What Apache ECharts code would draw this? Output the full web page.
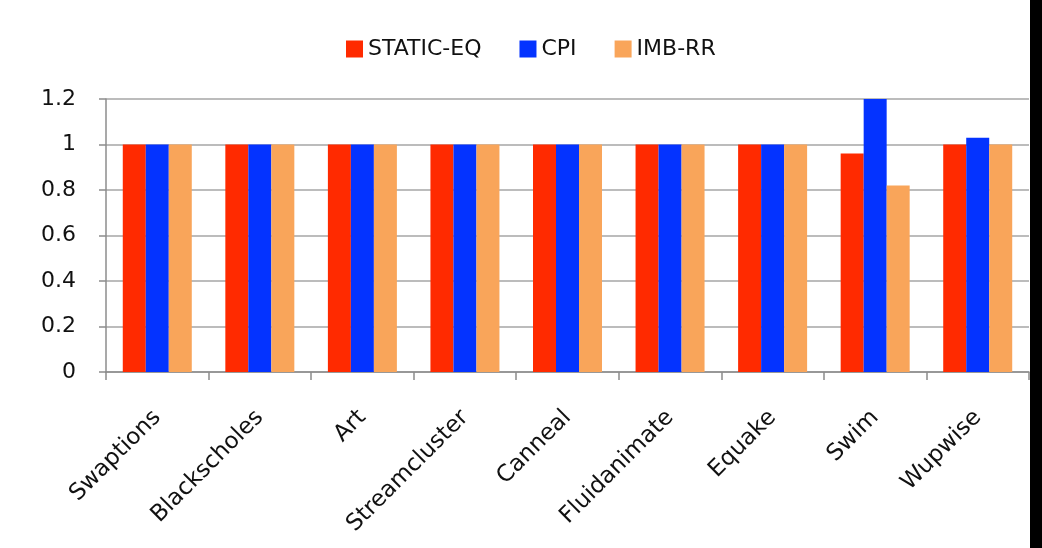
<!DOCTYPE html>
<html><head><meta charset="utf-8">
<script src="https://cdn.jsdelivr.net/npm/echarts@6/dist/echarts.min.js"></script>
<style>html,body{margin:0;padding:0;background:#fff}#c{width:1042px;height:548px}</style>
</head><body><div id="c"></div>
<script>
const categories = ["Swaptions","Blackscholes","Art","Streamcluster","Canneal","Fluidanimate","Equake","Swim","Wupwise"];
const staticEq = [1,1,1,1,1,1,1,0.96,1];
const cpi = [1,1,1,1,1,1,1,1.2,1.03];
const imbRR = [1,1,1,1,1,1,1,0.82,1];
const seriesNames = ["STATIC-EQ","CPI","IMB-RR"];
const colors = ["#FF2A00","#0433FF","#F9A55A"];
const font = "'DejaVu Sans', sans-serif";
const chart = echarts.init(document.getElementById('c'));
const data = [staticEq, cpi, imbRR];
chart.setOption({
  animation:false,
  legend:{top:33,left:341,itemWidth:17,itemHeight:17,itemGap:38,icon:'rect',
    textStyle:{fontFamily:font,fontSize:22,color:'#111'}},
  grid:{left:106,right:13,top:99,bottom:176},
  xAxis:{type:'category',data:categories,
    axisLine:{lineStyle:{color:'#8c8c8c',width:1.5}},
    axisTick:{show:true,length:8,alignWithLabel:false,lineStyle:{color:'#8c8c8c',width:1.5}},
    axisLabel:{rotate:45,fontFamily:font,fontSize:23,color:'#111',margin:42,interval:0}},
  yAxis:{type:'value',min:0,max:1.2,interval:0.2,
    axisLine:{show:true,lineStyle:{color:'#8c8c8c',width:1.5}},
    axisTick:{show:true,inside:false,length:7,lineStyle:{color:'#8c8c8c',width:1.5}},
    splitLine:{lineStyle:{color:'#a6a6a6',width:1.5}},
    axisLabel:{fontFamily:font,fontSize:22,color:'#111',margin:30,
      formatter:v=>String(Math.round(v*10)/10)}},
  series: seriesNames.map((n,i)=>({name:n,type:'bar',data:data[i],barWidth:23,barGap:'0%',
    itemStyle:{color:colors[i]}})),
  graphic:[{type:'rect',shape:{x:1030,y:0,width:12,height:548},style:{fill:'#000'}}]
});
</script></body></html>
